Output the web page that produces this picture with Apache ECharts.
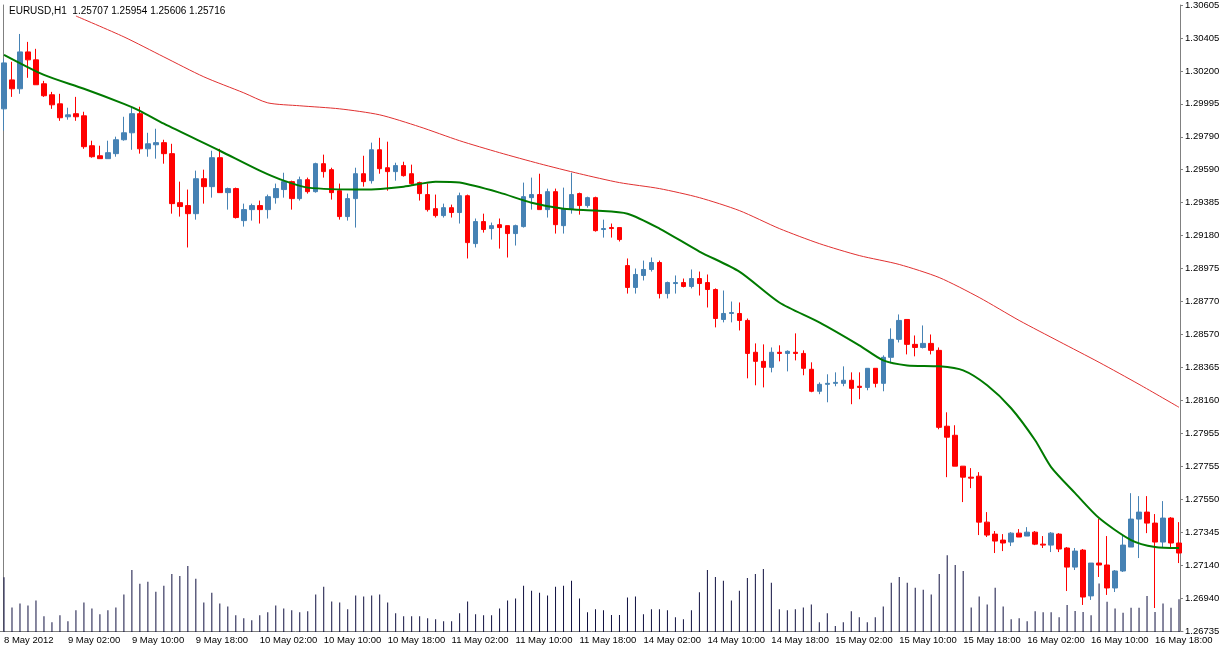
<!DOCTYPE html>
<html><head><meta charset="utf-8">
<script src="https://cdn.jsdelivr.net/npm/echarts@6/dist/echarts.min.js"></script>
<style>html,body{margin:0;padding:0;background:#fff}#c{width:1223px;height:653px}</style>
</head><body><div id="c"></div>
<script>
// prices in 1e-5 units (points)
const openPts=[129963,130142,130087,130315,130266,130118,130050,129994,129914,129933,
129920,129735,129673,129655,129686,129772,129815,129933,129716,129741,
129754,129686,129383,129365,129315,129531,129482,129661,129445,129470,
129272,129340,129365,129340,129414,129464,129513,129408,129525,129451,
129624,129587,129457,129297,129408,129562,129519,129710,129599,129575,
129612,129562,129507,129433,129346,129303,129352,129322,129426,129130,
129266,129223,129247,129241,129192,129235,129414,129433,129340,129451,
129241,129346,129439,129365,129414,129217,129229,129229,128994,128859,
128933,128970,129013,128821,128883,128889,128865,128914,128889,128846,
128661,128698,128698,128655,128458,128402,128365,128458,128451,128458,
128451,128353,128217,128260,128266,128266,128285,128248,128241,128359,
128266,128427,128538,128661,128507,128488,128513,128470,128001,127945,
127754,127686,127692,127408,127334,127297,127285,127340,127322,127346,
127272,127266,127334,127248,127130,127235,126952,127155,127143,127001,
127106,127254,127427,127470,127402,127285,127433,127279];
const closePts=[130247,130087,130315,130266,130112,130044,129988,129908,129926,129914,
129729,129667,129655,129692,129772,129815,129933,129716,129747,129754,
129686,129377,129359,129315,129531,129482,129661,129445,129470,129291,
129340,129365,129340,129420,129470,129513,129408,129525,129451,129624,
129575,129445,129297,129408,129562,129513,129710,129593,129575,129612,
129550,129501,129439,129340,129303,129352,129322,129426,129136,129266,
129217,129241,129229,129192,129241,129420,129433,129340,129451,129247,
129346,129433,129365,129414,129210,129223,129223,129155,128859,128939,
128970,129013,128821,128889,128889,128865,128914,128883,128846,128667,
128698,128704,128655,128451,128402,128365,128458,128451,128464,128451,
128359,128217,128260,128266,128272,128285,128235,128241,128359,128266,
128427,128538,128655,128507,128488,128513,128470,127994,127933,127754,
127686,127680,127408,127328,127291,127279,127340,127316,127346,127272,
127266,127340,127242,127130,127229,126945,127155,127143,127001,127106,
127266,127427,127470,127402,127285,127433,127279,127217];
const highPts=[130272,130254,130426,130377,130334,130136,130068,130056,129970,130037,
129945,129766,129735,129766,129791,129914,129976,129976,129815,129840,
129772,129747,129513,129464,129581,129587,129704,129716,129476,129476,
129377,129377,129396,129433,129501,129568,129519,129544,129538,129630,
129680,129599,129501,129439,129599,129673,129754,129784,129760,129630,
129636,129618,129513,129501,129433,129377,129371,129445,129433,129285,
129315,129260,129285,129241,129247,129507,129538,129562,129470,129470,
129476,129568,129445,129420,129420,129278,129254,129229,129038,128976,
129025,129044,129025,128895,128933,128914,128970,128957,128939,128853,
128840,128772,128766,128667,128513,128507,128488,128501,128470,128575,
128470,128396,128272,128322,128334,128371,128334,128334,128359,128359,
128439,128606,128692,128661,128562,128624,128568,128488,128087,128007,
127754,127742,127717,127470,127353,127334,127346,127365,127377,127353,
127322,127346,127340,127254,127248,127242,127155,127427,127322,127112,
127328,127587,127569,127569,127458,127538,127439,127408];
const lowPts=[129828,130037,130056,130155,130112,130037,129963,129889,129896,129889,
129716,129661,129655,129655,129667,129766,129710,129686,129667,129655,
129624,129315,129297,129106,129278,129377,129414,129445,129340,129285,
129235,129272,129254,129285,129377,129414,129340,129396,129439,129445,
129538,129402,129278,129272,129229,129482,129501,129562,129457,129519,
129544,129494,129396,129328,129291,129291,129291,129254,129038,129106,
129198,129155,129099,129044,129118,129229,129340,129340,129291,129192,
129192,129315,129309,129352,129204,129167,129167,129143,128821,128821,
128902,128957,128791,128791,128821,128859,128853,128809,128735,128612,
128643,128643,128593,128297,128254,128241,128334,128402,128340,128408,
128316,128211,128199,128149,128248,128248,128137,128168,128223,128241,
128217,128390,128519,128445,128433,128482,128445,127982,127686,127754,
127532,127618,127328,127316,127217,127229,127260,127316,127322,127266,
127248,127223,127223,126982,127112,126896,126927,127069,126958,126976,
127100,127254,127186,127340,126877,127248,127248,127155];
const volumes=[167,75,87,81,96,48,30,51,33,66,
90,72,54,66,75,114,189,147,153,123,
141,177,171,201,162,90,120,87,78,51,
42,36,51,60,81,72,66,60,63,114,
138,93,90,69,111,108,111,114,90,57,
48,48,48,42,39,33,33,57,93,54,
51,51,72,96,102,141,126,120,111,138,
141,156,102,60,69,66,52,52,105,108,
54,69,69,66,45,39,66,121,189,168,
156,96,126,165,177,192,150,69,66,69,
75,84,30,57,18,30,63,45,30,45,
78,150,168,150,135,129,114,177,234,204,
186,75,108,84,135,78,39,42,33,63,
60,60,45,82,64,61,51,148,92,72,
59,74,74,110,61,87,74,100];
const maFastIdx=[0,5,10,15,17,20,27,32,35,38,45,50,54,57,62,66,70,74,78,82,87,92,97,102,107,110,113,117,120,123,126,129,131,134,137,141,144,147];
const maFastPts=[130297,130173,130087,129994,129951,129871,129704,129581,129519,129476,129464,129482,129513,129507,129445,129383,129346,129334,129315,129223,129081,128957,128766,128643,128501,128408,128377,128371,128346,128254,128112,127914,127748,127587,127433,127297,127254,127248];
const maSlowIdx=[9,15,20,25,30,33,37,42,47,52,57,62,67,72,77,82,87,92,97,102,107,112,117,122,127,132,137,142,147];
const maSlowPts=[130537,130408,130284,130161,130062,130000,129982,129963,129926,129852,129766,129692,129624,129562,129507,129470,129414,129334,129223,129130,129056,129001,128920,128797,128655,128525,128396,128260,128118];
const priceLabels=['1.26735','1.26940','1.27140','1.27345','1.27550','1.27755','1.27955','1.28160','1.28365','1.28570','1.28770','1.28975','1.29180','1.29385','1.29590','1.29790','1.29995','1.30200','1.30405','1.30605'];
const timeLabels=['8 May 2012','9 May 02:00','9 May 10:00','9 May 18:00','10 May 02:00','10 May 10:00','10 May 18:00','11 May 02:00','11 May 10:00','11 May 18:00','14 May 02:00','14 May 10:00','14 May 18:00','15 May 02:00','15 May 10:00','15 May 18:00','16 May 02:00','16 May 10:00','16 May 18:00'];
const headerText='EURUSD,H1  1.25707 1.25954 1.25606 1.25716';

const N=openPts.length;
const cats=[];
{let d=new Date(Date.UTC(2012,4,8,18));
 for(let i=0;i<N;i++){cats.push(d.toISOString().slice(5,13));
  d=new Date(d.getTime()+3600000);
  if(d.getUTCDay()===6){d=new Date(Date.UTC(2012,4,14,0));}}}
const P=v=>v/1e5;
const candle=openPts.map((o,i)=>[P(o),P(closePts[i]),P(lowPts[i]),P(highPts[i])]);
const yMin=1.26735,yMax=1.30605,step=(yMax-yMin)/19;
const font='Liberation Sans';
const chart=echarts.init(document.getElementById('c'));
chart.setOption({
 animation:false,
 title:{text:headerText,left:4,top:1,textStyle:{fontSize:10,fontWeight:'normal',color:'#000',fontFamily:font}},
 grid:[{left:-1,width:1184,top:4,height:627},{left:-1,width:1184,top:4,height:628}],
 xAxis:[{type:'category',data:cats,gridIndex:0,boundaryGap:true,
   axisLine:{lineStyle:{color:'#808080'}},
   axisTick:{interval:7,length:4,alignWithLabel:true,lineStyle:{color:'#808080'}},
   axisLabel:{interval:7,align:'left',margin:4,fontSize:9.5,fontFamily:font,color:'#000',
     formatter:(v,idx)=>timeLabels[Math.round(idx/8)]||''},
   splitLine:{show:false}},
  {type:'category',data:cats,gridIndex:1,show:false}],
 yAxis:[{type:'value',gridIndex:0,position:'right',offset:-3,min:yMin,max:yMax,interval:step,scale:true,
   axisLine:{show:true,lineStyle:{color:'#808080'}},
   axisTick:{show:true,length:3,lineStyle:{color:'#808080'}},
   axisLabel:{margin:5,fontSize:9.5,fontFamily:font,color:'#000',
     formatter:v=>priceLabels[Math.round((v-yMin)/step)]||''},
   splitLine:{show:false}},
  {type:'value',gridIndex:0,position:'left',offset:-3,min:yMin,max:yMax,
   axisLine:{show:true,lineStyle:{color:'#808080'}},axisTick:{show:false},axisLabel:{show:false},splitLine:{show:false}},
  {type:'value',gridIndex:1,min:0,max:1915,show:false}],
 series:[
  {type:'bar',xAxisIndex:1,yAxisIndex:2,data:volumes,barWidth:1,itemStyle:{color:'#101040'},z:1},
  {type:'candlestick',xAxisIndex:0,yAxisIndex:0,data:candle,barWidth:5,z:3,
   itemStyle:{color:'#4682B4',color0:'#FF0000',borderColor:'#4682B4',borderColor0:'#FF0000',borderWidth:1}},
  {type:'line',xAxisIndex:0,yAxisIndex:0,data:maFastIdx.map((x,i)=>[x,P(maFastPts[i])]),
   smooth:0.25,showSymbol:false,lineStyle:{color:'#007a00',width:2},z:4},
  {type:'line',xAxisIndex:0,yAxisIndex:0,data:maSlowIdx.map((x,i)=>[x,P(maSlowPts[i])]),
   smooth:0.25,showSymbol:false,lineStyle:{color:'#e03030',width:1},z:4}
 ]
});
</script></body></html>
